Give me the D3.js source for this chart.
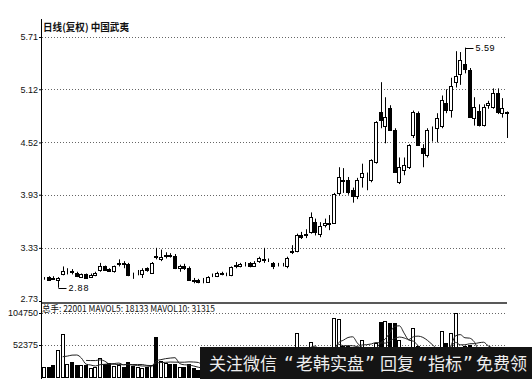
<!DOCTYPE html>
<html><head><meta charset="utf-8">
<script src="https://cdn.jsdelivr.net/npm/d3@7"></script>
<style>body{margin:0;background:#fff}svg{display:block}</style>
</head><body><svg id="c" width="532" height="379"></svg>
<script>
const opens  = [2.99,3.00,2.99,2.97,3.03,3.07,3.07,3.05,3.00,3.03,3.00,3.02,3.08,3.12,3.09,3.07,3.15,3.16,3.15,3.04,
                3.03,3.03,3.10,3.05,3.24,3.20,3.24,3.25,3.24,3.10,3.13,3.10,2.97,2.97,2.95,2.95,3.02,3.01,3.05,3.04,
                3.02,3.13,3.13,3.15,3.16,3.13,3.18,3.20,3.19,3.16,3.14,3.14,3.12,3.28,3.29,3.47,3.48,3.51,3.62,3.49,
                3.59,3.60,3.61,3.95,4.08,4.10,3.98,3.92,4.13,4.12,4.10,4.30,4.86,4.70,4.91,4.66,4.07,4.21,4.24,4.60,
                4.85,4.46,4.38,4.66,4.68,4.70,4.97,4.89,5.20,5.29,5.40,5.34,4.80,4.88,4.72,4.94,4.92,5.08,4.85,4.86];
const highs  = [3.00,3.01,3.01,3.00,3.12,3.10,3.09,3.06,3.04,3.04,3.04,3.06,3.16,3.13,3.10,3.13,3.20,3.18,3.16,3.05,
                3.08,3.10,3.11,3.17,3.33,3.31,3.28,3.27,3.26,3.14,3.15,3.12,2.99,2.98,2.99,3.01,3.04,3.06,3.06,3.05,
                3.12,3.17,3.16,3.17,3.17,3.18,3.23,3.33,3.21,3.17,3.16,3.16,3.23,3.36,3.49,3.51,3.54,3.73,3.66,3.62,
                3.66,3.70,3.95,4.24,4.23,4.13,4.01,4.12,4.28,4.18,4.33,4.76,5.20,5.03,4.94,4.68,4.35,4.35,4.50,4.88,
                4.87,4.50,4.68,4.70,4.85,5.05,5.12,5.25,5.55,5.54,5.59,5.36,5.03,4.95,4.95,4.99,5.13,5.13,5.02,4.87];
const lows   = [2.97,2.97,2.97,2.88,3.02,3.03,3.03,3.00,2.99,2.98,2.99,3.01,3.06,3.07,3.06,3.05,3.12,3.10,3.01,2.98,
                3.02,2.99,3.06,3.04,3.20,3.18,3.21,3.22,3.09,3.06,3.08,2.96,2.93,2.93,2.93,2.94,3.00,3.00,3.02,3.01,
                3.01,3.10,3.11,3.12,3.11,3.12,3.16,3.16,3.17,3.09,3.12,3.12,3.10,3.26,3.28,3.43,3.44,3.49,3.47,3.45,
                3.56,3.53,3.60,3.92,3.95,3.93,3.84,3.88,4.01,3.98,4.07,4.28,4.68,4.51,4.65,4.18,4.05,4.15,4.22,4.57,
                4.48,4.24,4.35,4.53,4.52,4.68,4.85,4.80,5.14,5.17,5.30,4.80,4.71,4.70,4.70,4.90,4.90,4.84,4.80,4.57];
const closes = [2.99,2.97,2.98,2.99,3.07,3.07,3.06,3.01,3.03,2.99,3.02,3.05,3.12,3.08,3.07,3.12,3.16,3.15,3.02,3.03,
                3.03,3.08,3.08,3.16,3.23,3.23,3.25,3.24,3.10,3.13,3.10,2.97,2.96,2.94,2.95,3.00,3.02,3.05,3.03,3.03,
                3.11,3.14,3.15,3.15,3.12,3.16,3.21,3.19,3.19,3.13,3.14,3.14,3.22,3.30,3.48,3.45,3.49,3.68,3.51,3.58,
                3.61,3.61,3.94,4.13,4.10,3.96,3.91,4.10,4.17,4.12,4.32,4.75,4.77,4.81,4.66,4.19,4.24,4.26,4.49,4.86,
                4.49,4.40,4.66,4.66,4.80,5.00,4.89,5.16,5.27,5.45,5.35,4.81,4.92,4.72,4.92,4.96,5.08,4.86,4.91,4.85];
const volumes = [17000,16000,19000,44000,70000,22000,24000,20000,19000,20000,15000,16000,31000,22000,23000,18000,20000,17000,24000,18000,
                 16000,15000,17000,19000,65000,26000,23000,22000,22000,17000,16000,21000,14000,12000,10000,9000,8000,9000,7000,8000,
                 15000,12000,10000,9000,11000,10000,12000,20000,14000,12000,10000,9000,16000,24000,72000,49000,40000,57000,35000,30000,
                 28000,32000,96000,95000,50000,50000,38000,45000,60000,35000,40000,55000,90000,92000,89000,88000,60000,30000,35000,80000,
                 50000,35000,40000,25000,30000,76000,55000,72000,104000,40000,50000,52000,42000,40000,38000,15000,20000,18000,16000,22001];
const priceTicks = [5.71, 5.12, 4.52, 3.93, 3.33, 2.73];
const volTicks = [104750, 52375];
const titleText = "日线(复权)  中国武夷";
const volHeader = "总手: 22001  MAVOL5: 18133  MAVOL10: 31315";
const lowLabel = "2.88", highLabel = "5.59";
const bannerRuns = ["关注微信", "“", "老韩实盘", "”", "回复", "“", "指标", "”", "免费领"];

const svg = d3.select("#c");
const N = closes.length;
const x = d3.scaleLinear().domain([0, N - 1]).range([44, 507]);
const y = d3.scaleLinear().domain([2.73, 5.71]).range([301, 37]);
const yv = d3.scaleLinear().domain([0, 104750]).range([377, 313]);
const numFont = "'Liberation Sans', Arial, sans-serif";
const cjkFont = "'Noto Sans CJK SC', sans-serif";

// grid lines
svg.append("g").selectAll("line").data(priceTicks.slice(0, 5)).join("line")
  .attr("x1", 42).attr("x2", 507)
  .attr("y1", d => Math.round(y(d)) + 0.5).attr("y2", d => Math.round(y(d)) + 0.5)
  .attr("stroke", "#666").attr("stroke-dasharray", "1,2");
svg.append("g").selectAll("line").data(volTicks).join("line")
  .attr("x1", 42).attr("x2", 505)
  .attr("y1", d => Math.round(yv(d)) + 0.5).attr("y2", d => Math.round(yv(d)) + 0.5)
  .attr("stroke", "#666").attr("stroke-dasharray", "1,2");

// separator & axis line
svg.append("line").attr("x1", 41).attr("x2", 507).attr("y1", 303).attr("y2", 303)
  .attr("stroke", "#222").attr("stroke-width", 1.5);
svg.append("line").attr("x1", 41.5).attr("x2", 41.5).attr("y1", 19).attr("y2", 379)
  .attr("stroke", "#000").attr("stroke-width", 1);

// axes
const ax1 = svg.append("g").attr("transform", "translate(41,0)")
  .call(d3.axisLeft(y).tickValues(priceTicks).tickFormat(d3.format(".2f")).tickSize(2).tickPadding(1));
const ax2 = svg.append("g").attr("transform", "translate(41,0)")
  .call(d3.axisLeft(yv).tickValues(volTicks).tickFormat(d => String(d)).tickSize(2).tickPadding(1));
[ax1, ax2].forEach(a => {
  a.select(".domain").remove();
  a.selectAll("text").attr("font-family", numFont).attr("font-size", 9).attr("fill", "#111");
  a.selectAll("line").attr("stroke", "#000");
});
ax1.selectAll(".tick").filter(d => d === 2.73).select("text").attr("dy", "0.1em");

// candles
const idx = d3.range(N);
const cx = i => Math.round(x(i)) + 0.5;
const gC = svg.append("g");
gC.selectAll("line").data(idx).join("line")
  .attr("x1", cx).attr("x2", cx)
  .attr("y1", i => y(highs[i])).attr("y2", i => y(lows[i]))
  .attr("stroke", "#000").attr("stroke-width", 1);
gC.selectAll("rect").data(idx).join("rect")
  .attr("x", i => cx(i) - 2)
  .attr("y", i => Math.round(y(Math.max(opens[i], closes[i]))) + 0.5)
  .attr("width", 3)
  .attr("height", i => Math.max(0, Math.round(y(Math.min(opens[i], closes[i]))) - Math.round(y(Math.max(opens[i], closes[i])))))
  .attr("fill", i => closes[i] >= opens[i] ? "#fff" : "#000")
  .attr("stroke", "#000").attr("stroke-width", 1);

// low / high markers
const iLow = lows.indexOf(d3.min(lows)), iHigh = highs.indexOf(d3.max(highs));
svg.append("line").attr("x1", cx(iLow)).attr("x2", cx(iLow) + 8)
  .attr("y1", Math.round(y(lows[iLow])) + 0.5).attr("y2", Math.round(y(lows[iLow])) + 0.5).attr("stroke", "#000");
svg.append("text").attr("x", cx(iLow) + 10).attr("y", y(lows[iLow]) + 3.5)
  .attr("font-family", numFont).attr("font-size", 9).attr("letter-spacing", 0.8).text(lowLabel);
svg.append("line").attr("x1", cx(iHigh)).attr("x2", cx(iHigh) + 8)
  .attr("y1", Math.round(y(highs[iHigh])) + 0.5).attr("y2", Math.round(y(highs[iHigh])) + 0.5).attr("stroke", "#000");
svg.append("text").attr("x", cx(iHigh) + 10).attr("y", y(highs[iHigh]) + 3.5)
  .attr("font-family", numFont).attr("font-size", 9).attr("letter-spacing", 0.5).text(highLabel);

// volume bars
const gV = svg.append("g");
gV.selectAll("rect").data(idx).join("rect")
  .attr("x", i => cx(i) - 2)
  .attr("y", i => Math.round(yv(volumes[i])) + 0.5)
  .attr("width", 3)
  .attr("height", i => Math.max(0, Math.round(yv(0)) - Math.round(yv(volumes[i]))))
  .attr("fill", i => closes[i] >= opens[i] ? "#fff" : "#000")
  .attr("stroke", "#000").attr("stroke-width", 1);

// moving averages of volume
function ma(n) {
  return idx.filter(i => i >= n - 1).map(i => [i, d3.mean(volumes.slice(i - n + 1, i + 1))]);
}
const ln = d3.line().x(d => x(d[0])).y(d => yv(d[1])).curve(d3.curveMonotoneX);
[ma(5), ma(10)].forEach(s => svg.append("path").attr("d", ln(s))
  .attr("fill", "none").attr("stroke", "#222").attr("stroke-width", 1));

// texts
svg.append("text").attr("x", 43).attr("y", 31).attr("font-family", cjkFont)
  .attr("font-size", 10).attr("font-weight", "bold").attr("textLength", 86)
  .attr("lengthAdjust", "spacingAndGlyphs").attr("fill", "#111").text(titleText);
svg.append("text").attr("x", 42).attr("y", 312).attr("font-family", cjkFont)
  .attr("font-size", 9.5).attr("textLength", 173).attr("lengthAdjust", "spacingAndGlyphs")
  .attr("fill", "#111").text(volHeader);

// banner overlay
svg.append("rect").attr("x", 200).attr("y", 347).attr("width", 332).attr("height", 32).attr("fill", "#141414");
const runX = [209, 284, 296, 365, 380, 418, 428, 463, 476];
const isQ = d => /[“”]/.test(d);
const bt = svg.append("text").attr("y", 370).attr("fill", "#eee");
bt.selectAll("tspan").data(bannerRuns).join("tspan")
  .attr("x", (d, i) => runX[i])
  .attr("font-family", d => isQ(d) ? "'DejaVu Sans', sans-serif" : cjkFont)
  .attr("font-size", d => isQ(d) ? 19 : 17)
  .text(d => d);
</script></body></html>
